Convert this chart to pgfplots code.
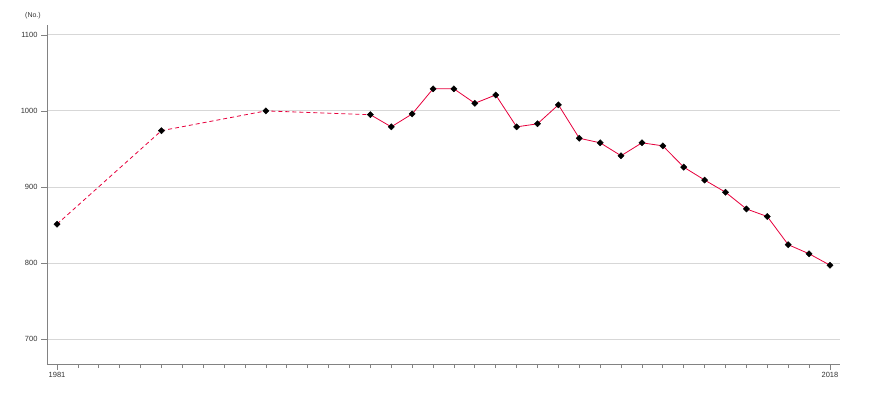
\documentclass[border=0pt]{standalone}
\usepackage{pgfplots}
\pgfplotsset{compat=1.18}
\usepackage{fontspec}
\setmainfont{Liberation Sans}
\definecolor{linered}{RGB}{230,0,60}
\definecolor{gridgray}{RGB}{215,215,215}
\definecolor{axgray}{RGB}{130,130,130}
\begin{document}
\begin{tikzpicture}[x=1pt,y=1pt]
\useasboundingbox (-47,-36) rectangle (823,364);
\begin{axis}[
  at={(0,0)}, anchor=south west,
  scale only axis, width=793pt, height=339pt,
  xmin=1980.52, xmax=2018.48,
  ymin=667, ymax=1113,
  axis lines*=left,
  axis line style={axgray, line width=0.8pt, -},
  xtick={1981,2018},
  minor xtick={1982,...,2017},
  xticklabels={1981,2018},
  ytick={700,800,900,1000,1100},
  ymajorgrids, major grid style={gridgray, line width=0.8pt},
  tick align=outside,
  major tick length=6pt, minor tick length=4pt,
  tick style={axgray, line width=0.7pt},
  yticklabel style={font=\fontsize{7.5}{8}\selectfont, text=black!80},
  xticklabel style={font=\fontsize{7.5}{8}\selectfont, text=black!80, yshift=1pt},
  /pgf/number format/assume math mode=true,
  /pgf/number format/.cd, 1000 sep={},
  /pgfplots/.cd,
  clip=false,
]
\addplot[linered, line width=0.8pt, dash pattern=on 4pt off 3pt, mark=none] coordinates {
(1981,851) (1986,974) (1991,1000) (1996,995)
};
\addplot[linered, line width=0.8pt, mark=none] coordinates {
(1996,995) (1997,979) (1998,996) (1999,1029) (2000,1029) (2001,1010) (2002,1021)
(2003,979) (2004,983) (2005,1008) (2006,964) (2007,958) (2008,941) (2009,958)
(2010,954) (2011,926) (2012,909) (2013,893) (2014,871) (2015,861) (2016,824)
(2017,812) (2018,797)
};
\addplot[only marks, mark=square*, mark options={rotate=45}, mark size=2.2pt, black] coordinates {
(1981,851) (1986,974) (1991,1000) (1996,995)
(1997,979) (1998,996) (1999,1029) (2000,1029) (2001,1010) (2002,1021)
(2003,979) (2004,983) (2005,1008) (2006,964) (2007,958) (2008,941) (2009,958)
(2010,954) (2011,926) (2012,909) (2013,893) (2014,871) (2015,861) (2016,824)
(2017,812) (2018,797)
};
\node[font=\fontsize{7}{7}\selectfont, text=black!80] at (rel axis cs:0,1) [anchor=south, xshift=-14pt, yshift=3pt] {(No.)};
\end{axis}
\end{tikzpicture}
\end{document}
